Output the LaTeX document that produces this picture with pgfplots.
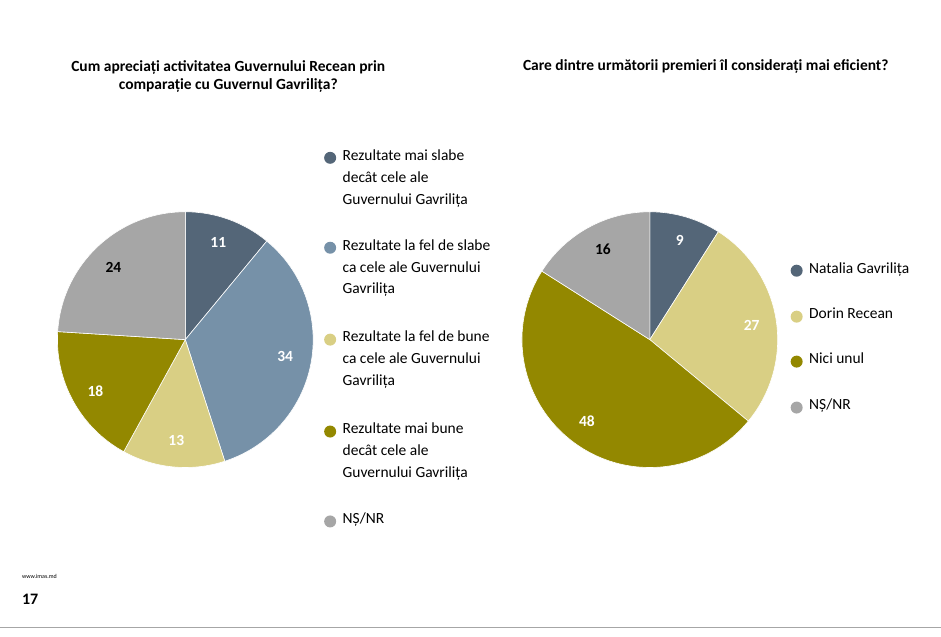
\documentclass[border=0pt]{standalone}
\usepackage{pgfplots}
\pgfplotsset{compat=1.18}
\usepackage{fontspec}
\setmainfont{Carlito}
\definecolor{cA}{HTML}{546678}
\definecolor{cB}{HTML}{7691A8}
\definecolor{cC}{HTML}{D9CF84}
\definecolor{cD}{HTML}{938800}
\definecolor{cE}{HTML}{A6A6A6}
\newcommand\pieslice[5]{\fill[#5,draw=white,line width=0.6pt] (axis cs:#1,#2) -- ++({90-3.6*#3}:128pt) arc[start angle={90-3.6*#3}, end angle={90-3.6*#4}, radius=128pt] -- cycle;}
\begin{document}
\begin{tikzpicture}
\begin{axis}[scale only axis, width=941pt, height=637pt, xmin=0, xmax=941, ymin=0, ymax=637, hide axis, clip=false]
\path (axis cs:0,0) rectangle (axis cs:941,637);
% left pie: 11,34,13,18,24
\pieslice{185}{297}{0}{11}{cA}
\pieslice{185}{297}{11}{45}{cB}
\pieslice{185}{297}{45}{58}{cC}
\pieslice{185}{297}{58}{76}{cD}
\pieslice{185}{297}{76}{100}{cE}
% right pie: 9,27,48,16
\pieslice{650}{297}{0}{9}{cA}
\pieslice{650}{297}{9}{36}{cC}
\pieslice{650}{297}{36}{84}{cD}
\pieslice{650}{297}{84}{100}{cE}
\begin{scope}[every node/.style={font=\fontsize{15.5}{18}\selectfont\bfseries}]
\node[white] at (axis cs:218,394) {11};
\node[white] at (axis cs:285,280) {34};
\node[white] at (axis cs:176,196) {13};
\node[white] at (axis cs:95,245) {18};
\node[black] at (axis cs:113,369) {24};
\node[white] at (axis cs:680,396) {9};
\node[white] at (axis cs:752,311) {27};
\node[white] at (axis cs:587,215) {48};
\node[black] at (axis cs:603,387) {16};
\node[align=center] at (axis cs:228,560) {Cum apreciați activitatea Guvernului Recean prin\\comparație cu Guvernul Gavrilița?};
\node at (axis cs:706,570) {Care dintre următorii premieri îl considerați mai eficient?};
\end{scope}
\begin{scope}[every node/.style={font=\fontsize{15.5}{22}\selectfont, anchor=north west, align=left}]
\fill[cA] (axis cs:330,479) circle (6pt);
\node at (axis cs:339,491) {Rezultate mai slabe\\decât cele ale\\Guvernului Gavrilița};
\fill[cB] (axis cs:330,389) circle (6pt);
\node at (axis cs:339,401) {Rezultate la fel de slabe\\ca cele ale Guvernului\\Gavrilița};
\fill[cC] (axis cs:330,297) circle (6pt);
\node at (axis cs:339,309) {Rezultate la fel de bune\\ca cele ale Guvernului\\Gavrilița};
\fill[cD] (axis cs:330,205) circle (6pt);
\node at (axis cs:339,217) {Rezultate mai bune\\decât cele ale\\Guvernului Gavrilița};
\fill[cE] (axis cs:330,115) circle (6pt);
\node at (axis cs:339,127) {NȘ/NR};
\fill[cA] (axis cs:797,366) circle (6pt);
\node at (axis cs:806,378) {Natalia Gavrilița};
\fill[cC] (axis cs:797,320) circle (6pt);
\node at (axis cs:806,332) {Dorin Recean};
\fill[cD] (axis cs:797,275) circle (6pt);
\node at (axis cs:806,287) {Nici unul};
\fill[cE] (axis cs:797,229) circle (6pt);
\node at (axis cs:806,241) {NȘ/NR};
\end{scope}
\node[anchor=west,font=\fontsize{6}{7}\selectfont] at (axis cs:18,60) {www.imas.md};
\node[anchor=west,font=\fontsize{16}{18}\selectfont\bfseries] at (axis cs:18,37) {17};
\draw[gray!70,line width=1pt] (axis cs:0,9) -- (axis cs:941,9);
\end{axis}
\end{tikzpicture}
\end{document}
